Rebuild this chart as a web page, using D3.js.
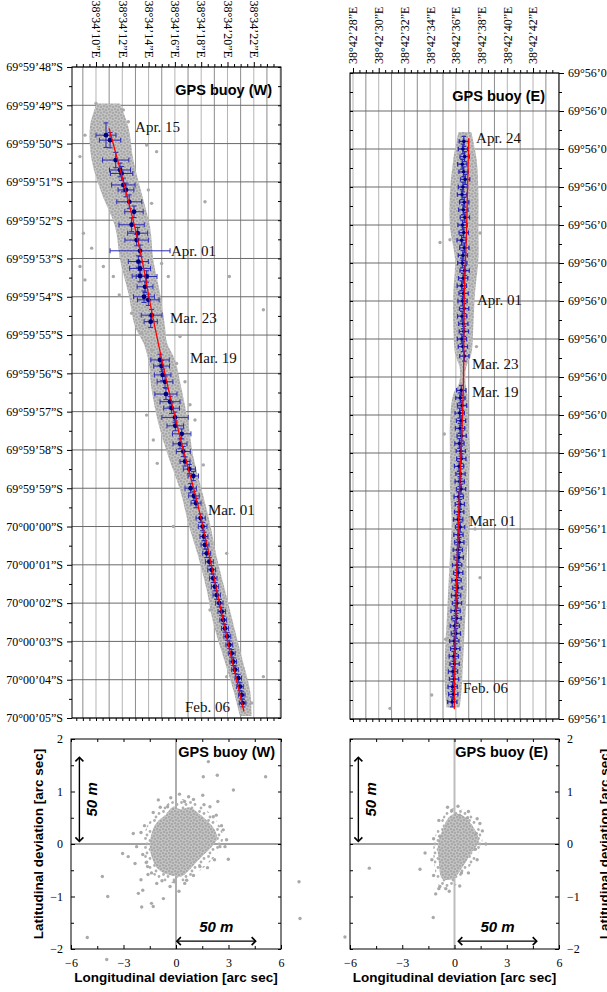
<!DOCTYPE html>
<html>
<head>
<meta charset="utf-8">
<script src="https://cdn.jsdelivr.net/npm/d3@7"></script>
<style>
  body { margin: 0; background: #fff; }
  svg { display: block; }
</style>
</head>
<body>
<svg id="chart" width="607" height="992"></svg>
<script>
// ---- buoy W : lon = seconds past 38°34'E, lat = seconds past 69°59'S (60+ is 70°00')
const wTrackLon = [10.99, 13.35, 14.36, 15.5, 16.64, 17.65, 18.85, 20.05, 21.25];
const wTrackLat = [49.6, 52.78, 54.6, 56.4, 58.0, 59.3, 61.13, 63.05, 64.83];

const wMeanLon = [10.76, 11.07, 11.50, 11.83, 11.95, 12.08, 12.28, 12.53, 12.89, 12.71,
  13.17, 13.09, 13.35, 13.22, 13.35, 13.35, 13.85, 13.73, 13.65, 13.98,
  14.23, 14.16, 14.87, 14.99, 15.07, 15.25, 15.32, 15.63, 15.75, 16.01,
  16.03, 16.52, 16.39, 16.64, 16.77, 17.10, 17.40, 17.20, 17.45, 17.61,
  17.96, 18.11, 18.21, 18.29, 18.42, 18.62, 18.80, 18.92, 19.05, 19.18,
  19.38, 19.56, 19.68, 19.81, 19.99, 20.14, 20.32, 20.44, 20.57, 20.82,
  20.95, 21.08, 21.15];
const wMeanLat = [49.78, 49.91, 50.43, 50.69, 50.78, 51.08, 51.21, 51.52, 51.78, 52.12,
  52.34, 52.52, 52.80, 53.08, 53.26, 53.46, 53.47, 53.74, 54.00, 54.08,
  54.48, 54.65, 55.65, 55.81, 56.04, 56.22, 56.54, 56.74, 56.91, 57.15,
  57.37, 57.58, 57.84, 58.04, 58.30, 58.50, 58.68, 59.00, 59.20, 59.39,
  59.78, 60.00, 60.26, 60.48, 60.70, 60.92, 61.13, 61.35, 61.57, 61.79,
  62.00, 62.22, 62.44, 62.66, 62.87, 63.09, 63.31, 63.53, 63.74, 63.96,
  64.18, 64.40, 64.61];
const wErrLon = [0.76, 0.81, 1.0, 0.8, 0.85, 0.89, 0.6, 0.95, 0.7, 0.96,
  0.76, 0.89, 2.28, 0.76, 0.79, 0.6, 0.79, 0.6, 0.79, 0.82,
  0.79, 0.5, 0.7, 0.6, 0.63, 0.6, 0.84, 0.76, 0.6, 1.0,
  0.63, 0.7, 0.53, 0.53, 0.38, 0.46, 0.4, 0.43, 0.4, 0.38,
  0.35, 0.33, 0.3, 0.3, 0.3, 0.3, 0.3, 0.28, 0.28, 0.28,
  0.28, 0.28, 0.26, 0.26, 0.26, 0.26, 0.26, 0.25, 0.25, 0.25,
  0.25, 0.25, 0.25];
const wErrLat = [0.32, 0.2, 0.2, 0.18, 0.18, 0.18, 0.18, 0.18, 0.15, 0.18,
  0.15, 0.15, 0.15, 0.15, 0.15, 0.15, 0.15, 0.15, 0.15, 0.15,
  0.15, 0.15, 0.15, 0.15, 0.15, 0.15, 0.14, 0.14, 0.14, 0.14,
  0.13, 0.13, 0.13, 0.13, 0.12, 0.12, 0.12, 0.12, 0.12, 0.12,
  0.11, 0.11, 0.11, 0.11, 0.11, 0.11, 0.11, 0.11, 0.11, 0.11,
  0.1, 0.1, 0.1, 0.1, 0.1, 0.1, 0.1, 0.1, 0.1, 0.1,
  0.1, 0.1, 0.1];

// extent of the grey GPS cloud around the W track
const wBandLat = [48.95, 49.56, 50.43, 51.30, 52.17, 53.04, 53.91, 54.78, 55.2, 55.65, 56.43,
  57.30, 58.17, 59.04, 59.92, 60.79, 61.66, 62.53, 63.40, 64.27, 64.95];
const wBandWest = [10.05, 9.54, 9.67, 10.43, 11.45, 11.83, 12.46, 12.97, 13.6, 13.98, 14.23,
  14.74, 15.50, 16.39, 17.02, 17.78, 18.42, 18.92, 19.68, 20.44, 20.95];
const wBandEast = [11.83, 12.46, 12.84, 13.47, 14.11, 14.36, 14.87, 15.25, 15.4, 16.01, 16.52,
  17.02, 17.40, 18.04, 18.67, 19.18, 19.81, 20.44, 21.08, 21.71, 21.84];
const wStray = [[10.0, 48.95], [12.08, 49.12], [12.46, 49.43], [9.16, 49.78], [8.78, 50.34],
  [13.85, 50.04], [14.61, 50.21], [13.98, 51.21], [14.23, 51.56], [18.29, 51.52],
  [9.04, 52.34], [9.67, 52.73], [8.78, 53.21], [10.56, 53.21], [9.16, 53.56],
  [11.32, 53.47], [14.99, 53.13], [15.5, 53.47], [20.14, 53.47], [22.73, 54.34],
  [14.74, 54.08], [11.77, 53.95], [12.71, 54.43], [13.47, 54.95], [16.39, 55.04],
  [14.23, 55.39], [16.13, 55.74], [16.77, 56.22], [13.85, 57.09], [14.66, 58.35],
  [14.36, 57.74], [17.15, 56.82], [17.53, 57.22], [18.16, 58.39], [15.88, 60.0],
  [19.94, 60.7], [18.67, 62.18], [22.73, 63.92], [19.94, 63.92], [21.84, 64.61]];

const wDates = ["Apr. 15", "Apr. 01", "Mar. 23", "Mar. 19", "Mar. 01", "Feb. 06"];
const wDateLon = [12.97, 15.70, 15.63, 17.15, 18.52, 16.77];
const wDateLat = [49.70, 52.94, 54.69, 55.73, 59.70, 64.84];

// ---- buoy E : lon = seconds past 38°42'E, lat = seconds past 69°56'S
const eTrackLon = [37.0, 36.84, 36.66, 36.58, 36.27, 36.06, 35.88];
const eTrackLat = [1.72, 4.04, 5.79, 8.28, 11.13, 13.23, 16.74];

const eMeanLat = [1.8, 2.0, 2.2, 2.4, 2.6, 2.8, 3.0, 3.2, 3.4, 3.6, 3.8, 4.0, 4.2, 4.4, 4.6,
  4.8, 5.0, 5.2, 5.4, 5.6, 5.8, 6.0, 6.2, 6.4, 6.6, 6.8, 7.0, 7.2, 7.45,
  8.35, 8.55, 8.75, 8.95, 9.15, 9.35, 9.55, 9.75, 9.95, 10.15, 10.35, 10.55, 10.75, 10.95,
  11.15, 11.35, 11.55, 11.75, 11.95, 12.15, 12.35, 12.55, 12.75, 12.95, 13.15, 13.35,
  13.55, 13.75, 13.95, 14.15, 14.35, 14.55, 14.75, 14.95, 15.15, 15.35, 15.55, 15.75,
  15.95, 16.15, 16.35, 16.55];
const eMeanLon = [36.62, 36.55, 36.68, 36.50, 36.60, 36.72, 36.55, 36.48, 36.65, 36.58,
  36.70, 36.52, 36.61, 36.45, 36.66, 36.55, 36.50, 36.68, 36.57, 36.46,
  36.60, 36.52, 36.64, 36.49, 36.58, 36.62, 36.47, 36.55, 36.66,
  36.42, 36.35, 36.48, 36.30, 36.40, 36.33, 36.45, 36.28, 36.38, 36.42,
  36.25, 36.36, 36.30, 36.40, 36.22, 36.31, 36.26, 36.18, 36.33, 36.20,
  36.27, 36.15, 36.22, 36.10, 36.18, 36.05, 36.12, 36.02, 36.09, 35.98,
  36.05, 35.92, 36.00, 35.88, 35.95, 35.84, 35.90, 35.78, 35.86, 35.75,
  35.80, 35.72];
const eErrLon = 0.36;
const eErrLat = 0.13;

const eBandLat = [1.55, 2.28, 3.16, 4.04, 4.91, 5.79, 6.66, 7.4, 7.75, 8.15, 8.45, 9.2, 10.08,
  10.96, 11.83, 12.71, 13.58, 14.46, 15.33, 16.21, 16.7];
const eBandWest = [36.2, 35.8, 35.54, 35.54, 35.93, 35.8, 35.8, 35.95, 36.3, 36.25, 35.8, 35.54, 35.54,
  35.54, 35.67, 35.54, 35.41, 35.28, 35.15, 35.15, 35.28];
const eBandEast = [37.2, 37.62, 37.75, 37.75, 37.75, 37.49, 37.36, 37.2, 36.8, 36.75, 36.9, 36.97, 37.1,
  36.97, 37.1, 36.84, 36.84, 36.71, 36.58, 36.45, 36.3];
const eStray = [[34.77, 4.46], [35.54, 4.39], [37.88, 4.21], [34.12, 16.37], [37.49, 12.0],
  [37.88, 13.28], [30.88, 16.72], [35.1, 9.5], [37.6, 7.2], [35.2, 14.9]];

const eDates = ["Apr. 24", "Apr. 01", "Mar. 23", "Mar. 19", "Mar. 01", "Feb. 06"];
const eDateLon = [37.57, 37.64, 37.25, 37.25, 37.02, 36.55];
const eDateLat = [1.84, 6.11, 7.79, 8.53, 11.92, 16.32];

// ---- deviations from the trend [arc sec] (lon, lat)
const wCore = [[-1.5, -0.05], [-1.35, 0.25], [-1.0, 0.45], [-0.6, 0.55], [-0.2, 0.7], [0.3, 0.66],
  [0.8, 0.7], [1.3, 0.58], [1.8, 0.44], [2.2, 0.28], [2.35, 0.1], [2.05, -0.05], [1.6, -0.2],
  [1.15, -0.35], [0.75, -0.5], [0.3, -0.62], [-0.2, -0.6], [-0.7, -0.55], [-1.1, -0.45], [-1.35, -0.28]];
const wHalo = [[-1.9, 0.0], [-1.6, 0.38], [-1.0, 0.62], [-0.2, 0.82], [0.8, 0.84], [1.6, 0.68],
  [2.3, 0.45], [2.7, 0.15], [2.3, -0.2], [1.4, -0.5], [0.4, -0.72], [-0.6, -0.72], [-1.4, -0.55], [-1.8, -0.3]];
const wDevStray = [[1.85, 1.57], [1.56, 1.28], [2.36, 1.31], [5.12, 1.28], [3.28, 1.03], [1.53, 0.93],
  [0.72, 0.9], [2.39, 0.81], [2.99, -0.29], [-3.05, -0.18], [-2.34, -0.37], [-4.21, -0.62],
  [-3.9, -1.0], [-2.15, -0.94], [-1.9, -0.88], [-1.96, -1.2], [-1.3, -1.19], [-1.4, -1.13],
  [-0.72, -1.04], [0.17, -0.9], [-1.6, -0.58], [-2.0, -0.68], [-5.07, -1.78], [7.03, -0.72],
  [-2.44, 0.2], [-1.01, 0.84], [-0.48, 0.71], [0.49, 0.81], [1.94, 0.71], [2.13, 0.52],
  [2.7, 0.27], [2.89, 0.08], [2.51, -0.05], [1.37, -0.43], [0.61, -0.69], [-0.34, -0.81],
  [-1.1, -0.75], [-1.62, -0.43], [-2.25, -0.05], [-2.73, -0.24], [-3.96, -2.2],
  [-2.0, 0.22], [-1.8, 0.35], [-1.3, 0.6], [-0.9, 0.7], [-0.3, 0.88], [0.2, 0.95], [1.0, 0.85],
  [1.6, 0.75], [2.3, 0.55], [2.6, 0.35], [2.8, -0.05], [2.2, -0.3], [1.8, -0.45], [1.0, -0.6],
  [0.5, -0.75], [-0.1, -0.72], [-0.8, -0.7], [-1.4, -0.55], [-1.9, -0.2], [-1.7, -0.35]];
const eCore = [[-0.95, 0.0], [-0.65, 0.3], [-0.2, 0.55], [0.45, 0.55], [1.0, 0.36], [1.4, 0.05],
  [1.0, -0.15], [0.5, -0.42], [-0.07, -0.66], [-0.7, -0.66], [-0.9, -0.35]];
const eHalo = [[-1.2, 0.0], [-0.85, 0.38], [-0.3, 0.66], [0.6, 0.64], [1.25, 0.42], [1.6, 0.05],
  [1.25, -0.25], [0.65, -0.52], [0.0, -0.8], [-0.85, -0.8], [-1.15, -0.42]];
const eDevStray = [[-0.16, 0.64], [1.46, 0.39], [-1.69, -0.17], [-1.98, -0.48], [-4.89, -0.46],
  [-1.22, -1.4], [-1.08, -0.95], [-0.84, -0.81], [-6.29, -1.77], [-8.87, -1.42],
  [0.3, 0.55], [0.75, 0.5], [1.25, 0.2], [-0.5, -0.85], [0.4, -0.55], [-0.85, 0.15], [1.2, -0.1],
  [-1.2, 0.1], [-0.9, 0.45], [-0.4, 0.7], [0.2, 0.72], [0.8, 0.62], [1.3, 0.48], [1.6, 0.25],
  [1.8, 0.0], [1.3, -0.3], [0.8, -0.55], [0.3, -0.8], [-0.3, -0.9], [-0.9, -0.85], [-1.2, -0.6], [-1.3, -0.3]];

// 50 m scale bars
const barLatLen = 1.6;   // arc sec latitude
const barLonLen = 4.5;   // arc sec longitude

const serif = "'Liberation Serif', 'Times New Roman', serif";
const sans = "'Liberation Sans', Arial, sans-serif";
const pad2 = s => String(s).padStart(2, "0");

const svg = d3.select("#chart");
const defs = svg.append("defs");

// speckled fills for the GPS clouds
const speck = defs.append("pattern").attr("id", "speck")
  .attr("patternUnits", "userSpaceOnUse").attr("width", 6).attr("height", 6);
speck.append("rect").attr("width", 6).attr("height", 6).attr("fill", "#c6c6c6");
[[1, 1], [4, 2], [2, 4], [5, 5]].forEach(([cx, cy]) =>
  speck.append("circle").attr("cx", cx).attr("cy", cy).attr("r", 1.3).attr("fill", "#a9a9a9"));
const sparse = defs.append("pattern").attr("id", "sparse")
  .attr("patternUnits", "userSpaceOnUse").attr("width", 9).attr("height", 9);
[[1.5, 1.5], [6, 3.5], [3, 7]].forEach(([cx, cy]) =>
  sparse.append("circle").attr("cx", cx).attr("cy", cy).attr("r", 1.4).attr("fill", "#afafaf"));

defs.append("marker").attr("id", "head")
  .attr("viewBox", "-6 -6 12 12").attr("markerWidth", 12).attr("markerHeight", 12)
  .attr("markerUnits", "userSpaceOnUse").attr("orient", "auto-start-reverse")
  .append("path").attr("d", "M-4,-4L0,0L-4,4")
  .attr("fill", "none").attr("stroke", "#000").attr("stroke-width", 1.6);

function cleanAxis(g) {
  g.select(".domain").remove();
  g.attr("font-family", serif).attr("font-size", 12);
  g.selectAll("line").attr("stroke", "#000");
}

// ---------------- track panels ----------------
function drawTrack(o) {
  const g = svg.append("g");
  const [x0, x1] = o.x.domain(), [y0, y1] = o.y.domain();

  g.append("g").selectAll("line").data(d3.range(Math.ceil(x0), Math.floor(x1) + 1)).join("line")
    .attr("x1", d => o.x(d)).attr("x2", d => o.x(d))
    .attr("y1", o.y(y0)).attr("y2", o.y(y1))
    .attr("stroke", d => d % 2 ? "#8c8c8c" : "#b5b5b5").attr("stroke-width", 1);
  g.append("g").selectAll("line").data(d3.range(Math.ceil(y0), Math.floor(y1) + 1)).join("line")
    .attr("y1", d => o.y(d)).attr("y2", d => o.y(d))
    .attr("x1", o.x(x0)).attr("x2", o.x(x1))
    .attr("stroke", "#6a6a6a").attr("stroke-width", 1);

  const band = o.bandLat.map((lat, i) => ({ lat, w: o.bandW[i], e: o.bandE[i] }));
  g.append("path").datum(band)
    .attr("d", d3.area().curve(d3.curveCatmullRom)
      .y(d => o.y(d.lat)).x0(d => o.x(d.w)).x1(d => o.x(d.e)))
    .attr("fill", "url(#speck)");

  g.append("g").selectAll("circle").data(o.stray).join("circle")
    .attr("cx", d => o.x(d[0])).attr("cy", d => o.y(d[1])).attr("r", 1.7).attr("fill", "#a9a9a9");

  const means = o.meanLon.map((lon, i) => ({
    lon, lat: o.meanLat[i],
    ex: Array.isArray(o.errLon) ? o.errLon[i] : o.errLon,
    ey: Array.isArray(o.errLat) ? o.errLat[i] : o.errLat
  }));
  const eb = g.append("g");
  eb.selectAll("path").data(means).join("path")
    .attr("d", d => {
      const xl = o.x(d.lon - d.ex), xr = o.x(d.lon + d.ex), xc = o.x(d.lon);
      const yc = o.y(d.lat), yt = o.y(d.lat - d.ey), yb = o.y(d.lat + d.ey), c = o.cap;
      return `M${xl},${yc}H${xr}M${xl},${yc - c}V${yc + c}M${xr},${yc - c}V${yc + c}` +
        `M${xc},${yt}V${yb}M${xc - c},${yt}H${xc + c}M${xc - c},${yb}H${xc + c}`;
    })
    .attr("fill", "none").attr("stroke", "#2a2ab4").attr("stroke-width", o.barWidth);
  eb.selectAll("circle").data(means).join("circle")
    .attr("cx", d => o.x(d.lon)).attr("cy", d => o.y(d.lat)).attr("r", o.dot)
    .attr("fill", "#000080");

  const track = o.trackLon.map((lon, i) => [lon, o.trackLat[i]]);
  g.append("path").datum(track)
    .attr("d", d3.line().curve(d3.curveMonotoneY).x(d => o.x(d[0])).y(d => o.y(d[1])))
    .attr("fill", "none").attr("stroke", "#ff0000").attr("stroke-width", 1.3);

  g.append("g").selectAll("text").data(o.dates).join("text")
    .attr("x", (d, i) => o.x(o.dateLon[i])).attr("y", (d, i) => o.y(o.dateLat[i]))
    .attr("font-family", serif).attr("font-size", 15).attr("fill", "#111")
    .text(d => d);

  g.append("rect")
    .attr("x", o.x(x0)).attr("y", o.y(y0))
    .attr("width", o.x(x1) - o.x(x0)).attr("height", o.y(y1) - o.y(y0))
    .attr("fill", "none").attr("stroke", "#000").attr("stroke-width", 1);

  g.append("text").attr("x", o.titleX).attr("y", o.y(y0) + 28)
    .attr("text-anchor", "end").attr("font-family", sans).attr("font-weight", "bold")
    .attr("font-size", 14.5).text(o.title);

  // axes
  const xMaj = d3.range(Math.ceil(x0 / 2) * 2, x1 - 1, 2);
  const xMin = d3.range(Math.ceil(x0 * 2) / 2, x1, 0.5).filter(v => v % 2);
  const yMaj = d3.range(Math.ceil(y0), y1 + 0.01, 1);
  const yMin = d3.range(Math.ceil(y0 * 2) / 2, y1, 0.5).filter(v => v % 1);
  const top = o.y(y0), bottom = o.y(y1), left = o.x(x0), right = o.x(x1);

  const gx = g.append("g").attr("transform", `translate(0,${top})`)
    .call(d3.axisTop(o.x).tickValues(xMaj).tickSize(5).tickFormat(o.fmtLon));
  cleanAxis(gx);
  gx.selectAll("text")
    .attr("transform", `rotate(${o.lonRot})`)
    .attr("x", o.lonRot > 0 ? -9 : 9).attr("y", 0).attr("dy", o.lonRot > 0 ? "0.35em" : "0.33em")
    .attr("text-anchor", o.lonRot > 0 ? "end" : "start");
  cleanAxis(g.append("g").attr("transform", `translate(0,${top})`)
    .call(d3.axisTop(o.x).tickValues(xMin).tickSize(3).tickFormat("")));
  cleanAxis(g.append("g").attr("transform", `translate(0,${bottom})`)
    .call(d3.axisBottom(o.x).tickValues(xMaj.concat(xMin)).tickSize(3).tickFormat("")));

  const onLeft = o.latSide === "left";
  const gy = g.append("g").attr("transform", `translate(${onLeft ? left : right},0)`)
    .call((onLeft ? d3.axisLeft(o.y) : d3.axisRight(o.y))
      .tickValues(yMaj).tickSize(5).tickPadding(4).tickFormat(o.fmtLat));
  cleanAxis(gy);
  cleanAxis(g.append("g").attr("transform", `translate(${onLeft ? left : right},0)`)
    .call((onLeft ? d3.axisLeft(o.y) : d3.axisRight(o.y))
      .tickValues(yMin).tickSize(3).tickFormat("")));
  cleanAxis(g.append("g").attr("transform", `translate(${onLeft ? right : left},0)`)
    .call((onLeft ? d3.axisLeft(o.y) : d3.axisRight(o.y))
      .tickValues(yMaj.concat(yMin)).tickSize(3).tickFormat("")));
}

drawTrack({
  x: d3.scaleLinear().domain([8.175, 24.07]).range([72, 281]),
  y: d3.scaleLinear().domain([48, 65]).range([67, 718]),
  trackLon: wTrackLon, trackLat: wTrackLat,
  meanLon: wMeanLon, meanLat: wMeanLat, errLon: wErrLon, errLat: wErrLat,
  bandLat: wBandLat, bandW: wBandWest, bandE: wBandEast, stray: wStray,
  dates: wDates, dateLon: wDateLon, dateLat: wDateLat,
  cap: 2.5, dot: 2.4, barWidth: 1,
  title: "GPS buoy (W)", titleX: 272,
  lonRot: 90, latSide: "left",
  fmtLon: s => `38°34’${pad2(s)}”E`,
  fmtLat: s => s < 60 ? `69°59’${pad2(s)}”S` : `70°00’${pad2(s - 60)}”S`
});

drawTrack({
  x: d3.scaleLinear().domain([27.767, 44.02]).range([350, 559]),
  y: d3.scaleLinear().domain([0, 17]).range([73, 719]),
  trackLon: eTrackLon, trackLat: eTrackLat,
  meanLon: eMeanLon, meanLat: eMeanLat, errLon: eErrLon, errLat: eErrLat,
  bandLat: eBandLat, bandW: eBandWest, bandE: eBandEast, stray: eStray,
  dates: eDates, dateLon: eDateLon, dateLat: eDateLat,
  cap: 2.2, dot: 1.8, barWidth: 1.3,
  title: "GPS buoy (E)", titleX: 545,
  lonRot: -90, latSide: "right",
  fmtLon: s => `38°42’${pad2(s)}”E`,
  fmtLat: s => `69°56’${pad2(s)}”S`
});

// ---------------- deviation panels ----------------
const yDev = d3.scaleLinear().domain([-2, 2]).range([949, 739]);

function drawDev(o) {
  const g = svg.append("g");
  const x = o.x, y = yDev;
  const [l, r] = x.range();

  g.append("line").attr("x1", x(0)).attr("x2", x(0)).attr("y1", y(2)).attr("y2", y(-2))
    .attr("stroke", o.zeroColor).attr("stroke-width", o.zeroWidth);
  g.append("line").attr("x1", l).attr("x2", r).attr("y1", y(0)).attr("y2", y(0))
    .attr("stroke", "#444").attr("stroke-width", 1);

  const blob = d3.line().curve(d3.curveCatmullRomClosed).x(d => x(d[0])).y(d => y(d[1]));
  g.append("path").attr("d", blob(o.halo)).attr("fill", "url(#sparse)");
  g.append("path").attr("d", blob(o.core)).attr("fill", "url(#speck)");
  g.append("g").selectAll("circle").data(o.stray).join("circle")
    .attr("cx", d => x(d[0])).attr("cy", d => y(d[1])).attr("r", 1.7).attr("fill", "#a9a9a9");

  g.append("rect").attr("x", l).attr("y", y(2)).attr("width", r - l).attr("height", y(-2) - y(2))
    .attr("fill", "none").attr("stroke", "#000").attr("stroke-width", 1);

  // ticks, inward
  const xMaj = [-6, -3, 0, 3, 6], xMin = [-4.5, -1.5, 1.5, 4.5];
  const yMaj = [-2, -1, 0, 1, 2], yMin = [-1.5, -0.5, 0.5, 1.5];
  const fmt = d3.format("d");
  const gb = g.append("g").attr("transform", `translate(0,${y(-2)})`)
    .call(d3.axisBottom(x).tickValues(xMaj).tickFormat(fmt).tickSizeInner(-4).tickSizeOuter(0).tickPadding(9));
  cleanAxis(gb);
  cleanAxis(g.append("g").attr("transform", `translate(0,${y(-2)})`)
    .call(d3.axisBottom(x).tickValues(xMin).tickSize(-3).tickFormat("")));
  cleanAxis(g.append("g").attr("transform", `translate(0,${y(2)})`)
    .call(d3.axisTop(x).tickValues(xMaj.concat(xMin)).tickSize(-3).tickFormat("")));

  const onLeft = o.side === "left";
  const ga = g.append("g").attr("transform", `translate(${onLeft ? l : r},0)`)
    .call((onLeft ? d3.axisLeft(y) : d3.axisRight(y))
      .tickValues(yMaj).tickFormat(fmt).tickSizeInner(-4).tickSizeOuter(0).tickPadding(8));
  cleanAxis(ga);
  cleanAxis(g.append("g").attr("transform", `translate(${onLeft ? l : r},0)`)
    .call((onLeft ? d3.axisLeft(y) : d3.axisRight(y)).tickValues(yMin).tickSize(-3).tickFormat("")));
  cleanAxis(g.append("g").attr("transform", `translate(${onLeft ? r : l},0)`)
    .call((onLeft ? d3.axisRight(y) : d3.axisLeft(y)).tickValues(yMaj.concat(yMin)).tickSize(-3).tickFormat("")));

  g.append("text").attr("x", o.titleX).attr("y", 757).attr("text-anchor", "end")
    .attr("font-family", sans).attr("font-weight", "bold").attr("font-size", 14.5).text(o.title);

  // 50 m scale arrows
  g.append("line").attr("x1", x(o.vBarLon)).attr("x2", x(o.vBarLon))
    .attr("y1", y(0.05)).attr("y2", y(0.05 + barLatLen))
    .attr("stroke", "#000").attr("stroke-width", 1.4)
    .attr("marker-start", "url(#head)").attr("marker-end", "url(#head)");
  g.append("text").attr("transform", `translate(${x(o.vBarLon) + 18},${y(0.05 + barLatLen / 2)}) rotate(-90)`)
    .attr("text-anchor", "middle").attr("font-family", sans).attr("font-weight", "bold")
    .attr("font-style", "italic").attr("font-size", 15).text("50 m");
  g.append("line").attr("x1", x(o.hBarStart)).attr("x2", x(o.hBarStart + barLonLen))
    .attr("y1", y(-1.85)).attr("y2", y(-1.85))
    .attr("stroke", "#000").attr("stroke-width", 1.4)
    .attr("marker-start", "url(#head)").attr("marker-end", "url(#head)");
  g.append("text").attr("x", x(o.hBarStart + barLonLen / 2)).attr("y", y(-1.85) - 9)
    .attr("text-anchor", "middle").attr("font-family", sans).attr("font-weight", "bold")
    .attr("font-style", "italic").attr("font-size", 15).text("50 m");

  g.append("text").attr("x", (l + r) / 2).attr("y", 982).attr("text-anchor", "middle")
    .attr("font-family", sans).attr("font-weight", "bold").attr("font-size", 13.5)
    .text("Longitudinal deviation [arc sec]");
  g.append("text").attr("transform", `translate(${o.yLabelX},${y(0)}) rotate(-90)`)
    .attr("text-anchor", "middle").attr("font-family", sans).attr("font-weight", "bold")
    .attr("font-size", 13.5).text("Latitudinal deviation [arc sec]");
}

drawDev({
  x: d3.scaleLinear().domain([-6, 6]).range([71, 281]),
  core: wCore, halo: wHalo, stray: wDevStray,
  zeroColor: "#777", zeroWidth: 1.2, side: "left",
  title: "GPS buoy (W)", titleX: 275,
  vBarLon: -5.52, hBarStart: 0.05, yLabelX: 43
});
drawDev({
  x: d3.scaleLinear().domain([-6, 6]).range([350, 559]),
  core: eCore, halo: eHalo, stray: eDevStray,
  zeroColor: "#bdbdbd", zeroWidth: 2, side: "right",
  title: "GPS buoy (E)", titleX: 548,
  vBarLon: -5.52, hBarStart: 0.22, yLabelX: 609
});
</script>
</body>
</html>
